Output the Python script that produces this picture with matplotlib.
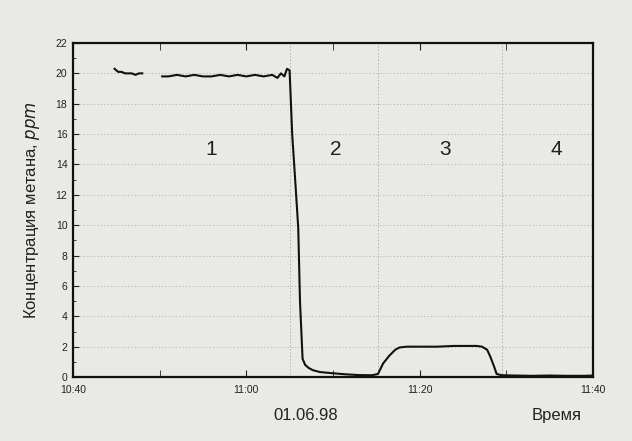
import numpy as np
import matplotlib.pyplot as plt

# time in minutes after 10:40, methane concentration in ppm
nan = np.nan
minutes = [4.8, 5.2, 5.6, 6.0, 6.4, 6.8, 7.2, 7.6, 8.0, nan,
           10.3, 11.0, 12.0, 13.0, 14.0, 15.0, 16.0, 17.0, 18.0, 19.0, 20.0,
           21.0, 22.0, 23.0, 23.6, 24.0, 24.4, 24.7, 25.0,
           25.3, 25.7, 26.0, 26.2, 26.5, 26.8, 27.2, 27.7, 28.5, 30.0,
           31.5, 33.0, 34.5, 35.2, 35.8, 36.5, 37.2, 37.7, 38.5, 40.0,
           42.0, 44.0, 46.0, 46.6, 47.2, 47.8, 48.2, 48.6, 48.9, 49.5,
           51.0, 53.0, 55.0, 57.0, 59.0, 60.0]
conc = [20.3, 20.1, 20.1, 20.0, 20.0, 20.0, 19.9, 20.0, 20.0, nan,
        19.8, 19.8, 19.9, 19.8, 19.9, 19.8, 19.8, 19.9, 19.8, 19.9, 19.8,
        19.9, 19.8, 19.9, 19.7, 20.0, 19.8, 20.3, 20.2,
        16.0, 12.5, 9.8, 5.0, 1.2, 0.8, 0.6, 0.45, 0.33, 0.25,
        0.18, 0.13, 0.12, 0.2, 0.9, 1.4, 1.8, 1.95, 2.0, 2.0,
        2.0, 2.05, 2.05, 2.05, 2.0, 1.8, 1.3, 0.7, 0.2, 0.12,
        0.1, 0.08, 0.1, 0.08, 0.08, 0.1]

phase_labels = ['1', '2', '3', '4']
phase_x = [16.0, 30.3, 43.0, 55.8]
phase_y = 15.0
boundaries = [25.0, 35.2, 49.5]

x_ticks = [0, 20, 40, 60]
x_ticklabels = ['10:40', '11:00', '11:20', '11:40']

plt.rcParams['font.family'] = ['Liberation Sans', 'DejaVu Sans']
bg = '#e9e9e6'

fig = plt.figure(figsize=(6.32, 4.41), dpi=100, facecolor=bg)
ax = fig.add_axes([0.1155, 0.145, 0.8225, 0.7575], facecolor=bg)

# dotted grid
for yv in range(2, 22, 2):
    ax.axhline(yv, color='#bdbdbd', lw=0.7, ls=(0, (1.5, 2)), zorder=1)
for b in boundaries:
    ax.axvline(b, color='#b0b0b0', lw=0.7, ls=(0, (1.5, 2)), zorder=1)

ax.plot(minutes, conc, color='#111111', lw=1.5, zorder=3)

for lab, px in zip(phase_labels, phase_x):
    ax.text(px, phase_y, lab, fontsize=15, ha='center', va='center', color='#222222')

ax.set_xlim(0, 60)
ax.set_ylim(0, 22)
ax.set_xticks(x_ticks)
ax.set_xticklabels(x_ticklabels)
ax.set_xticks(np.arange(0, 61, 10), minor=True)
ax.set_yticks(np.arange(0, 23, 2))
ax.set_yticks(np.arange(0, 23, 1), minor=True)

ax.tick_params(axis='both', which='both', direction='in', labelsize=7.5,
               colors='#222222')
ax.tick_params(axis='x', which='both', top=True, pad=6)
ax.tick_params(axis='x', which='major', length=5)
ax.tick_params(axis='x', which='minor', length=5)
ax.tick_params(axis='y', which='major', length=4, pad=4)
ax.tick_params(axis='y', which='minor', length=2.5)

for s in ax.spines.values():
    s.set_linewidth(1.6)
    s.set_color('#111111')

ax.set_ylabel('Концентрация метана, $\\it{ppm}$', fontsize=12, color='#222222',
              labelpad=10)

fig.text(0.483, 0.057, '01.06.98', fontsize=12, ha='center', va='center',
         color='#222222')
fig.text(0.88, 0.057, 'Время', fontsize=12, ha='center', va='center',
         color='#222222')

fig.savefig('out.png', dpi=100, facecolor=bg)
